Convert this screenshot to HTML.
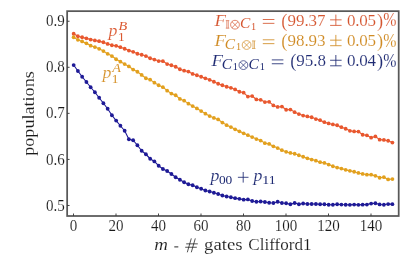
<!DOCTYPE html>
<html><head><meta charset="utf-8"><title>chart</title>
<style>
html,body{margin:0;padding:0;background:#fff;}
body{width:415px;height:260px;overflow:hidden;font-family:"Liberation Serif",serif;}
svg{display:block;font-family:"Liberation Serif",serif;will-change:transform;opacity:0.999;}
text{stroke:#fff;stroke-width:0.12px;paint-order:fill stroke;}
text.s{stroke:none;}
</style></head><body>
<svg width="415" height="260" viewBox="0 0 415 260">
<rect width="415" height="260" fill="#fff"/>
<rect x="67.15" y="11.15" width="331.55" height="204.85" fill="none" stroke="#585858" stroke-width="1.75"/>
<line x1="67.15" y1="205.49" x2="69.55000000000001" y2="205.49" stroke="#3c3c3c" stroke-width="0.95"/>
<text transform="translate(64.9,210.90) scale(0.94,1)" text-anchor="end" font-size="16" fill="#1a1a1a">0.5</text>
<line x1="67.15" y1="159.43" x2="69.55000000000001" y2="159.43" stroke="#3c3c3c" stroke-width="0.95"/>
<text transform="translate(64.9,164.65) scale(0.94,1)" text-anchor="end" font-size="16" fill="#1a1a1a">0.6</text>
<line x1="67.15" y1="113.37" x2="69.55000000000001" y2="113.37" stroke="#3c3c3c" stroke-width="0.95"/>
<text transform="translate(64.9,118.40) scale(0.94,1)" text-anchor="end" font-size="16" fill="#1a1a1a">0.7</text>
<line x1="67.15" y1="67.31" x2="69.55000000000001" y2="67.31" stroke="#3c3c3c" stroke-width="0.95"/>
<text transform="translate(64.9,72.15) scale(0.94,1)" text-anchor="end" font-size="16" fill="#1a1a1a">0.8</text>
<line x1="67.15" y1="21.25" x2="69.55000000000001" y2="21.25" stroke="#3c3c3c" stroke-width="0.95"/>
<text transform="translate(64.9,25.90) scale(0.94,1)" text-anchor="end" font-size="16" fill="#1a1a1a">0.9</text>
<line x1="73.50" y1="216.0" x2="73.50" y2="213.5" stroke="#3c3c3c" stroke-width="0.95"/>
<text transform="translate(73.60,230.7) scale(0.94,1)" text-anchor="middle" font-size="16" fill="#1a1a1a">0</text>
<line x1="116.00" y1="216.0" x2="116.00" y2="213.5" stroke="#3c3c3c" stroke-width="0.95"/>
<text transform="translate(116.10,230.7) scale(0.94,1)" text-anchor="middle" font-size="16" fill="#1a1a1a">20</text>
<line x1="158.50" y1="216.0" x2="158.50" y2="213.5" stroke="#3c3c3c" stroke-width="0.95"/>
<text transform="translate(158.60,230.7) scale(0.94,1)" text-anchor="middle" font-size="16" fill="#1a1a1a">40</text>
<line x1="201.00" y1="216.0" x2="201.00" y2="213.5" stroke="#3c3c3c" stroke-width="0.95"/>
<text transform="translate(201.10,230.7) scale(0.94,1)" text-anchor="middle" font-size="16" fill="#1a1a1a">60</text>
<line x1="243.50" y1="216.0" x2="243.50" y2="213.5" stroke="#3c3c3c" stroke-width="0.95"/>
<text transform="translate(243.60,230.7) scale(0.94,1)" text-anchor="middle" font-size="16" fill="#1a1a1a">80</text>
<line x1="286.00" y1="216.0" x2="286.00" y2="213.5" stroke="#3c3c3c" stroke-width="0.95"/>
<text transform="translate(286.10,230.7) scale(0.94,1)" text-anchor="middle" font-size="16" fill="#1a1a1a">100</text>
<line x1="328.50" y1="216.0" x2="328.50" y2="213.5" stroke="#3c3c3c" stroke-width="0.95"/>
<text transform="translate(328.60,230.7) scale(0.94,1)" text-anchor="middle" font-size="16" fill="#1a1a1a">120</text>
<line x1="371.00" y1="216.0" x2="371.00" y2="213.5" stroke="#3c3c3c" stroke-width="0.95"/>
<text transform="translate(371.10,230.7) scale(0.94,1)" text-anchor="middle" font-size="16" fill="#1a1a1a">140</text>
<text transform="translate(34,155.8) rotate(-90)" font-size="17" textLength="84.6" lengthAdjust="spacingAndGlyphs" fill="#1a1a1a">populations</text>
<text x="154.2" y="250.3" font-size="17" font-style="italic" textLength="13.7" lengthAdjust="spacingAndGlyphs" fill="#1a1a1a">m</text>
<path d="M174.3 246.9H178.3" stroke="#1a1a1a" stroke-width="0.95" fill="none"/>
<path d="M187.3 252.3L191.3 238.4M191.3 252.3L195.3 238.4M186.2 243.85H197.8M185.2 247.25H196.8" stroke="#1a1a1a" stroke-width="0.75" fill="none"/>
<text x="204" y="250.3" font-size="17" textLength="38.6" lengthAdjust="spacingAndGlyphs" fill="#1a1a1a">gates</text>
<text x="248.3" y="250.3" font-size="17" textLength="63.3" lengthAdjust="spacing" fill="#1a1a1a">Clifford1</text>
<polyline points="73.65,33.75 77.90,36.25 82.15,37.25 86.40,38.35 90.65,39.55 94.90,40.45 99.15,41.15 103.40,42.25 107.65,43.95 111.90,45.25 116.15,45.85 120.40,47.15 124.65,48.75 128.90,50.55 133.15,51.85 137.40,53.75 141.65,54.75 145.90,56.05 150.15,58.25 154.40,59.55 158.65,61.05 162.90,61.15 167.15,64.05 171.40,65.25 175.65,66.75 179.90,69.25 184.15,70.65 188.40,71.55 192.65,73.95 196.90,75.25 201.15,76.75 205.40,78.35 209.65,79.85 213.90,81.75 218.15,83.75 222.40,85.25 226.65,86.75 230.90,87.85 235.15,89.45 239.40,91.75 243.65,92.65 247.90,96.55 252.15,96.05 256.40,99.45 260.65,99.85 264.90,102.05 269.15,101.85 273.40,105.45 277.65,106.95 281.90,106.55 286.15,109.75 290.40,109.55 294.65,112.15 298.90,114.05 303.15,115.55 307.40,116.45 311.65,117.25 315.90,119.05 320.15,120.15 324.40,122.15 328.65,123.45 332.90,124.45 337.15,125.25 341.40,127.15 345.65,128.75 349.90,130.85 354.15,131.45 358.40,131.55 362.65,134.75 366.90,135.35 371.15,137.65 375.40,136.45 379.65,139.65 383.90,139.95 388.15,140.75 392.40,142.55" fill="none" stroke="#e8572e" stroke-width="1.1" stroke-linejoin="round"/>
<g fill="#e8572e"><circle cx="73.65" cy="33.75" r="1.9"/><circle cx="77.90" cy="36.25" r="1.9"/><circle cx="82.15" cy="37.25" r="1.9"/><circle cx="86.40" cy="38.35" r="1.9"/><circle cx="90.65" cy="39.55" r="1.9"/><circle cx="94.90" cy="40.45" r="1.9"/><circle cx="99.15" cy="41.15" r="1.9"/><circle cx="103.40" cy="42.25" r="1.9"/><circle cx="107.65" cy="43.95" r="1.9"/><circle cx="111.90" cy="45.25" r="1.9"/><circle cx="116.15" cy="45.85" r="1.9"/><circle cx="120.40" cy="47.15" r="1.9"/><circle cx="124.65" cy="48.75" r="1.9"/><circle cx="128.90" cy="50.55" r="1.9"/><circle cx="133.15" cy="51.85" r="1.9"/><circle cx="137.40" cy="53.75" r="1.9"/><circle cx="141.65" cy="54.75" r="1.9"/><circle cx="145.90" cy="56.05" r="1.9"/><circle cx="150.15" cy="58.25" r="1.9"/><circle cx="154.40" cy="59.55" r="1.9"/><circle cx="158.65" cy="61.05" r="1.9"/><circle cx="162.90" cy="61.15" r="1.9"/><circle cx="167.15" cy="64.05" r="1.9"/><circle cx="171.40" cy="65.25" r="1.9"/><circle cx="175.65" cy="66.75" r="1.9"/><circle cx="179.90" cy="69.25" r="1.9"/><circle cx="184.15" cy="70.65" r="1.9"/><circle cx="188.40" cy="71.55" r="1.9"/><circle cx="192.65" cy="73.95" r="1.9"/><circle cx="196.90" cy="75.25" r="1.9"/><circle cx="201.15" cy="76.75" r="1.9"/><circle cx="205.40" cy="78.35" r="1.9"/><circle cx="209.65" cy="79.85" r="1.9"/><circle cx="213.90" cy="81.75" r="1.9"/><circle cx="218.15" cy="83.75" r="1.9"/><circle cx="222.40" cy="85.25" r="1.9"/><circle cx="226.65" cy="86.75" r="1.9"/><circle cx="230.90" cy="87.85" r="1.9"/><circle cx="235.15" cy="89.45" r="1.9"/><circle cx="239.40" cy="91.75" r="1.9"/><circle cx="243.65" cy="92.65" r="1.9"/><circle cx="247.90" cy="96.55" r="1.9"/><circle cx="252.15" cy="96.05" r="1.9"/><circle cx="256.40" cy="99.45" r="1.9"/><circle cx="260.65" cy="99.85" r="1.9"/><circle cx="264.90" cy="102.05" r="1.9"/><circle cx="269.15" cy="101.85" r="1.9"/><circle cx="273.40" cy="105.45" r="1.9"/><circle cx="277.65" cy="106.95" r="1.9"/><circle cx="281.90" cy="106.55" r="1.9"/><circle cx="286.15" cy="109.75" r="1.9"/><circle cx="290.40" cy="109.55" r="1.9"/><circle cx="294.65" cy="112.15" r="1.9"/><circle cx="298.90" cy="114.05" r="1.9"/><circle cx="303.15" cy="115.55" r="1.9"/><circle cx="307.40" cy="116.45" r="1.9"/><circle cx="311.65" cy="117.25" r="1.9"/><circle cx="315.90" cy="119.05" r="1.9"/><circle cx="320.15" cy="120.15" r="1.9"/><circle cx="324.40" cy="122.15" r="1.9"/><circle cx="328.65" cy="123.45" r="1.9"/><circle cx="332.90" cy="124.45" r="1.9"/><circle cx="337.15" cy="125.25" r="1.9"/><circle cx="341.40" cy="127.15" r="1.9"/><circle cx="345.65" cy="128.75" r="1.9"/><circle cx="349.90" cy="130.85" r="1.9"/><circle cx="354.15" cy="131.45" r="1.9"/><circle cx="358.40" cy="131.55" r="1.9"/><circle cx="362.65" cy="134.75" r="1.9"/><circle cx="366.90" cy="135.35" r="1.9"/><circle cx="371.15" cy="137.65" r="1.9"/><circle cx="375.40" cy="136.45" r="1.9"/><circle cx="379.65" cy="139.65" r="1.9"/><circle cx="383.90" cy="139.95" r="1.9"/><circle cx="388.15" cy="140.75" r="1.9"/><circle cx="392.40" cy="142.55" r="1.9"/></g>
<polyline points="73.65,37.25 77.90,39.85 82.15,41.45 86.40,43.35 90.65,45.65 94.90,47.05 99.15,48.85 103.40,51.05 107.65,53.85 111.90,56.05 116.15,59.25 120.40,61.65 124.65,64.05 128.90,66.45 133.15,69.55 137.40,71.75 141.65,74.95 145.90,78.25 150.15,79.65 154.40,82.65 158.65,85.25 162.90,87.15 167.15,90.65 171.40,93.55 175.65,95.25 179.90,98.95 184.15,100.65 188.40,103.65 192.65,106.05 196.90,108.45 201.15,111.05 205.40,113.65 209.65,116.05 213.90,117.95 218.15,119.45 222.40,122.55 226.65,125.15 230.90,127.05 235.15,129.35 239.40,131.35 243.65,133.35 247.90,135.15 252.15,137.05 256.40,139.05 260.65,140.55 264.90,143.15 269.15,143.95 273.40,146.35 277.65,148.05 281.90,150.15 286.15,151.85 290.40,152.95 294.65,153.75 298.90,155.25 303.15,156.75 307.40,158.35 311.65,159.55 315.90,160.65 320.15,162.15 324.40,162.95 328.65,164.55 332.90,166.25 337.15,167.55 341.40,168.55 345.65,169.85 349.90,170.85 354.15,171.75 358.40,172.95 362.65,173.95 366.90,174.65 371.15,174.65 375.40,175.85 379.65,177.75 383.90,177.15 388.15,179.45 392.40,179.05" fill="none" stroke="#e2a01e" stroke-width="1.1" stroke-linejoin="round"/>
<g fill="#e2a01e"><circle cx="73.65" cy="37.25" r="1.9"/><circle cx="77.90" cy="39.85" r="1.9"/><circle cx="82.15" cy="41.45" r="1.9"/><circle cx="86.40" cy="43.35" r="1.9"/><circle cx="90.65" cy="45.65" r="1.9"/><circle cx="94.90" cy="47.05" r="1.9"/><circle cx="99.15" cy="48.85" r="1.9"/><circle cx="103.40" cy="51.05" r="1.9"/><circle cx="107.65" cy="53.85" r="1.9"/><circle cx="111.90" cy="56.05" r="1.9"/><circle cx="116.15" cy="59.25" r="1.9"/><circle cx="120.40" cy="61.65" r="1.9"/><circle cx="124.65" cy="64.05" r="1.9"/><circle cx="128.90" cy="66.45" r="1.9"/><circle cx="133.15" cy="69.55" r="1.9"/><circle cx="137.40" cy="71.75" r="1.9"/><circle cx="141.65" cy="74.95" r="1.9"/><circle cx="145.90" cy="78.25" r="1.9"/><circle cx="150.15" cy="79.65" r="1.9"/><circle cx="154.40" cy="82.65" r="1.9"/><circle cx="158.65" cy="85.25" r="1.9"/><circle cx="162.90" cy="87.15" r="1.9"/><circle cx="167.15" cy="90.65" r="1.9"/><circle cx="171.40" cy="93.55" r="1.9"/><circle cx="175.65" cy="95.25" r="1.9"/><circle cx="179.90" cy="98.95" r="1.9"/><circle cx="184.15" cy="100.65" r="1.9"/><circle cx="188.40" cy="103.65" r="1.9"/><circle cx="192.65" cy="106.05" r="1.9"/><circle cx="196.90" cy="108.45" r="1.9"/><circle cx="201.15" cy="111.05" r="1.9"/><circle cx="205.40" cy="113.65" r="1.9"/><circle cx="209.65" cy="116.05" r="1.9"/><circle cx="213.90" cy="117.95" r="1.9"/><circle cx="218.15" cy="119.45" r="1.9"/><circle cx="222.40" cy="122.55" r="1.9"/><circle cx="226.65" cy="125.15" r="1.9"/><circle cx="230.90" cy="127.05" r="1.9"/><circle cx="235.15" cy="129.35" r="1.9"/><circle cx="239.40" cy="131.35" r="1.9"/><circle cx="243.65" cy="133.35" r="1.9"/><circle cx="247.90" cy="135.15" r="1.9"/><circle cx="252.15" cy="137.05" r="1.9"/><circle cx="256.40" cy="139.05" r="1.9"/><circle cx="260.65" cy="140.55" r="1.9"/><circle cx="264.90" cy="143.15" r="1.9"/><circle cx="269.15" cy="143.95" r="1.9"/><circle cx="273.40" cy="146.35" r="1.9"/><circle cx="277.65" cy="148.05" r="1.9"/><circle cx="281.90" cy="150.15" r="1.9"/><circle cx="286.15" cy="151.85" r="1.9"/><circle cx="290.40" cy="152.95" r="1.9"/><circle cx="294.65" cy="153.75" r="1.9"/><circle cx="298.90" cy="155.25" r="1.9"/><circle cx="303.15" cy="156.75" r="1.9"/><circle cx="307.40" cy="158.35" r="1.9"/><circle cx="311.65" cy="159.55" r="1.9"/><circle cx="315.90" cy="160.65" r="1.9"/><circle cx="320.15" cy="162.15" r="1.9"/><circle cx="324.40" cy="162.95" r="1.9"/><circle cx="328.65" cy="164.55" r="1.9"/><circle cx="332.90" cy="166.25" r="1.9"/><circle cx="337.15" cy="167.55" r="1.9"/><circle cx="341.40" cy="168.55" r="1.9"/><circle cx="345.65" cy="169.85" r="1.9"/><circle cx="349.90" cy="170.85" r="1.9"/><circle cx="354.15" cy="171.75" r="1.9"/><circle cx="358.40" cy="172.95" r="1.9"/><circle cx="362.65" cy="173.95" r="1.9"/><circle cx="366.90" cy="174.65" r="1.9"/><circle cx="371.15" cy="174.65" r="1.9"/><circle cx="375.40" cy="175.85" r="1.9"/><circle cx="379.65" cy="177.75" r="1.9"/><circle cx="383.90" cy="177.15" r="1.9"/><circle cx="388.15" cy="179.45" r="1.9"/><circle cx="392.40" cy="179.05" r="1.9"/></g>
<polyline points="73.65,65.05 77.90,71.00 82.15,76.75 86.40,82.00 90.65,87.25 94.90,92.25 99.15,97.75 103.40,103.25 107.65,108.75 111.90,115.25 116.15,120.55 120.40,125.75 124.65,130.75 128.90,139.25 133.15,140.25 137.40,145.25 141.65,150.75 145.90,154.25 150.15,158.75 154.40,161.45 158.65,165.75 162.90,169.00 167.15,171.00 171.40,174.00 175.65,177.25 179.90,179.75 184.15,182.25 188.40,184.25 192.65,185.25 196.90,187.25 201.15,188.75 205.40,190.50 209.65,191.50 213.90,192.75 218.15,194.00 222.40,195.50 226.65,196.50 230.90,197.25 235.15,198.15 239.40,198.85 243.65,199.65 247.90,199.45 252.15,201.00 256.40,201.75 260.65,201.50 264.90,202.00 269.15,202.75 273.40,203.00 277.65,201.75 281.90,203.00 286.15,203.25 290.40,204.25 294.65,203.00 298.90,204.25 303.15,203.50 307.40,204.00 311.65,204.00 315.90,204.00 320.15,204.25 324.40,204.25 328.65,204.75 332.90,204.75 337.15,204.25 341.40,204.55 345.65,204.75 349.90,204.85 354.15,204.55 358.40,204.85 362.65,204.65 366.90,204.55 371.15,203.55 375.40,203.25 379.65,204.45 383.90,204.75 388.15,204.05 392.40,204.15" fill="none" stroke="#1e1a96" stroke-width="1.1" stroke-linejoin="round"/>
<g fill="#1e1a96"><circle cx="73.65" cy="65.05" r="1.9"/><circle cx="77.90" cy="71.00" r="1.9"/><circle cx="82.15" cy="76.75" r="1.9"/><circle cx="86.40" cy="82.00" r="1.9"/><circle cx="90.65" cy="87.25" r="1.9"/><circle cx="94.90" cy="92.25" r="1.9"/><circle cx="99.15" cy="97.75" r="1.9"/><circle cx="103.40" cy="103.25" r="1.9"/><circle cx="107.65" cy="108.75" r="1.9"/><circle cx="111.90" cy="115.25" r="1.9"/><circle cx="116.15" cy="120.55" r="1.9"/><circle cx="120.40" cy="125.75" r="1.9"/><circle cx="124.65" cy="130.75" r="1.9"/><circle cx="128.90" cy="139.25" r="1.9"/><circle cx="133.15" cy="140.25" r="1.9"/><circle cx="137.40" cy="145.25" r="1.9"/><circle cx="141.65" cy="150.75" r="1.9"/><circle cx="145.90" cy="154.25" r="1.9"/><circle cx="150.15" cy="158.75" r="1.9"/><circle cx="154.40" cy="161.45" r="1.9"/><circle cx="158.65" cy="165.75" r="1.9"/><circle cx="162.90" cy="169.00" r="1.9"/><circle cx="167.15" cy="171.00" r="1.9"/><circle cx="171.40" cy="174.00" r="1.9"/><circle cx="175.65" cy="177.25" r="1.9"/><circle cx="179.90" cy="179.75" r="1.9"/><circle cx="184.15" cy="182.25" r="1.9"/><circle cx="188.40" cy="184.25" r="1.9"/><circle cx="192.65" cy="185.25" r="1.9"/><circle cx="196.90" cy="187.25" r="1.9"/><circle cx="201.15" cy="188.75" r="1.9"/><circle cx="205.40" cy="190.50" r="1.9"/><circle cx="209.65" cy="191.50" r="1.9"/><circle cx="213.90" cy="192.75" r="1.9"/><circle cx="218.15" cy="194.00" r="1.9"/><circle cx="222.40" cy="195.50" r="1.9"/><circle cx="226.65" cy="196.50" r="1.9"/><circle cx="230.90" cy="197.25" r="1.9"/><circle cx="235.15" cy="198.15" r="1.9"/><circle cx="239.40" cy="198.85" r="1.9"/><circle cx="243.65" cy="199.65" r="1.9"/><circle cx="247.90" cy="199.45" r="1.9"/><circle cx="252.15" cy="201.00" r="1.9"/><circle cx="256.40" cy="201.75" r="1.9"/><circle cx="260.65" cy="201.50" r="1.9"/><circle cx="264.90" cy="202.00" r="1.9"/><circle cx="269.15" cy="202.75" r="1.9"/><circle cx="273.40" cy="203.00" r="1.9"/><circle cx="277.65" cy="201.75" r="1.9"/><circle cx="281.90" cy="203.00" r="1.9"/><circle cx="286.15" cy="203.25" r="1.9"/><circle cx="290.40" cy="204.25" r="1.9"/><circle cx="294.65" cy="203.00" r="1.9"/><circle cx="298.90" cy="204.25" r="1.9"/><circle cx="303.15" cy="203.50" r="1.9"/><circle cx="307.40" cy="204.00" r="1.9"/><circle cx="311.65" cy="204.00" r="1.9"/><circle cx="315.90" cy="204.00" r="1.9"/><circle cx="320.15" cy="204.25" r="1.9"/><circle cx="324.40" cy="204.25" r="1.9"/><circle cx="328.65" cy="204.75" r="1.9"/><circle cx="332.90" cy="204.75" r="1.9"/><circle cx="337.15" cy="204.25" r="1.9"/><circle cx="341.40" cy="204.55" r="1.9"/><circle cx="345.65" cy="204.75" r="1.9"/><circle cx="349.90" cy="204.85" r="1.9"/><circle cx="354.15" cy="204.55" r="1.9"/><circle cx="358.40" cy="204.85" r="1.9"/><circle cx="362.65" cy="204.65" r="1.9"/><circle cx="366.90" cy="204.55" r="1.9"/><circle cx="371.15" cy="203.55" r="1.9"/><circle cx="375.40" cy="203.25" r="1.9"/><circle cx="379.65" cy="204.45" r="1.9"/><circle cx="383.90" cy="204.75" r="1.9"/><circle cx="388.15" cy="204.05" r="1.9"/><circle cx="392.40" cy="204.15" r="1.9"/></g>

<text x="108.6" y="36.4" font-size="16.5" font-style="italic" fill="#db5830" textLength="8.9" lengthAdjust="spacingAndGlyphs">p</text><text class="s" x="118.5" y="29.90" font-size="13" font-style="italic" fill="#db5830" textLength="8.7" lengthAdjust="spacingAndGlyphs">B</text><text class="s" x="118.0" y="40.70" font-size="12.7" fill="#db5830" textLength="6.70" lengthAdjust="spacingAndGlyphs">1</text>
<text x="102.4" y="78.2" font-size="16.5" font-style="italic" fill="#d6922a" textLength="8.9" lengthAdjust="spacingAndGlyphs">p</text><text class="s" x="112.3" y="71.70" font-size="13" font-style="italic" fill="#d6922a" textLength="8.7" lengthAdjust="spacingAndGlyphs">A</text><text class="s" x="111.8" y="82.50" font-size="12.7" fill="#d6922a" textLength="6.70" lengthAdjust="spacingAndGlyphs">1</text>
<text x="210.5" y="181" font-size="16.5" font-style="italic" fill="#1f2b73" textLength="8.9" lengthAdjust="spacingAndGlyphs">p</text><text class="s" x="218.9" y="183.70" font-size="12.7" fill="#1f2b73" textLength="13.40" lengthAdjust="spacingAndGlyphs">00</text>
<path d="M237.9 177.3h10.6M243.2 172v10.6" stroke="#1f2b73" stroke-width="0.85" fill="none"/>
<text x="253.6" y="181" font-size="16.5" font-style="italic" fill="#1f2b73" textLength="8.9" lengthAdjust="spacingAndGlyphs">p</text><text class="s" x="262.3" y="183.70" font-size="12.7" fill="#1f2b73" textLength="13.40" lengthAdjust="spacingAndGlyphs">11</text>
<text x="214.4" y="25.6" font-size="17" font-style="italic" fill="#d5552f" textLength="11.5" lengthAdjust="spacingAndGlyphs">F</text><path d="M225.8 20.6H229.3M225.8 28.200000000000003H229.3M226.8 20.6V28.200000000000003M228.3 20.6V28.200000000000003" stroke="#d5552f" stroke-width="0.6" fill="none"/><circle cx="235.0" cy="24.700000000000003" r="4.4" fill="none" stroke="#d5552f" stroke-width="0.7"/><path d="M231.89 21.59L238.11 27.81M231.89 27.81L238.11 21.59" stroke="#d5552f" stroke-width="0.7" fill="none"/><text class="s" x="240.0" y="28.200000000000003" font-size="14.4" font-style="italic" fill="#d5552f" textLength="10.3" lengthAdjust="spacingAndGlyphs">C</text><text class="s" x="251.1" y="30.000000000000004" font-size="10.3" fill="#d5552f">1</text><path d="M262.79999999999995 19.50h11.6M262.79999999999995 23.35h11.6" stroke="#d5552f" stroke-width="0.85" fill="none"/><text transform="translate(281.30,26.50) scale(1.08,1.1)" font-size="17" fill="#d5552f">(</text><text x="287.40" y="25.6" font-size="17" fill="#d5552f" textLength="38.20" lengthAdjust="spacing">99.37</text><path d="M330.1 19.85h11.5M335.85 14.60V25.40M330.1 25.40h11.5" stroke="#d5552f" stroke-width="0.85" fill="none"/><text x="346.9" y="25.6" font-size="17" fill="#d5552f" textLength="29.2" lengthAdjust="spacing">0.05</text><text transform="translate(376.9,26.50) scale(1.08,1.1)" font-size="17" fill="#d5552f">)</text><text transform="translate(383.3,26.20) scale(1,1.1)" font-size="17" fill="#d5552f" textLength="13.2" lengthAdjust="spacingAndGlyphs">%</text>
<text x="214.4" y="45.9" font-size="17" font-style="italic" fill="#d08b24" textLength="11.5" lengthAdjust="spacingAndGlyphs">F</text><text class="s" x="224.8" y="48.5" font-size="14.4" font-style="italic" fill="#d08b24" textLength="10.3" lengthAdjust="spacingAndGlyphs">C</text><text class="s" x="235.9" y="50.3" font-size="10.3" fill="#d08b24">1</text><circle cx="246.6" cy="45.0" r="4.4" fill="none" stroke="#d08b24" stroke-width="0.7"/><path d="M243.49 41.89L249.71 48.11M243.49 48.11L249.71 41.89" stroke="#d08b24" stroke-width="0.7" fill="none"/><path d="M252.0 40.9H255.5M252.0 48.5H255.5M253.0 40.9V48.5M254.5 40.9V48.5" stroke="#d08b24" stroke-width="0.6" fill="none"/><path d="M262.79999999999995 39.80h11.6M262.79999999999995 43.65h11.6" stroke="#d08b24" stroke-width="0.85" fill="none"/><text transform="translate(281.30,46.80) scale(1.08,1.1)" font-size="17" fill="#d08b24">(</text><text x="287.40" y="45.9" font-size="17" fill="#d08b24" textLength="38.20" lengthAdjust="spacing">98.93</text><path d="M330.1 40.15h11.5M335.85 34.90V45.70M330.1 45.70h11.5" stroke="#d08b24" stroke-width="0.85" fill="none"/><text x="346.9" y="45.9" font-size="17" fill="#d08b24" textLength="29.2" lengthAdjust="spacing">0.05</text><text transform="translate(376.9,46.80) scale(1.08,1.1)" font-size="17" fill="#d08b24">)</text><text transform="translate(383.3,46.50) scale(1,1.1)" font-size="17" fill="#d08b24" textLength="13.2" lengthAdjust="spacingAndGlyphs">%</text>
<text x="211.4" y="66.0" font-size="17" font-style="italic" fill="#1f2b73" textLength="11.5" lengthAdjust="spacingAndGlyphs">F</text><text class="s" x="221.70000000000002" y="68.6" font-size="14.4" font-style="italic" fill="#1f2b73" textLength="10.3" lengthAdjust="spacingAndGlyphs">C</text><text class="s" x="232.8" y="70.39999999999999" font-size="10.3" fill="#1f2b73">1</text><circle cx="243.4" cy="65.1" r="4.4" fill="none" stroke="#1f2b73" stroke-width="0.7"/><path d="M240.29 61.99L246.51 68.21M240.29 68.21L246.51 61.99" stroke="#1f2b73" stroke-width="0.7" fill="none"/><text class="s" x="248.6" y="68.6" font-size="14.4" font-style="italic" fill="#1f2b73" textLength="10.3" lengthAdjust="spacingAndGlyphs">C</text><text class="s" x="259.7" y="70.39999999999999" font-size="10.3" fill="#1f2b73">1</text><path d="M271.79999999999995 59.90h11.6M271.79999999999995 63.75h11.6" stroke="#1f2b73" stroke-width="0.85" fill="none"/><text transform="translate(290.20,66.90) scale(1.08,1.1)" font-size="17" fill="#1f2b73">(</text><text x="296.30" y="66.0" font-size="17" fill="#1f2b73" textLength="29.60" lengthAdjust="spacing">95.8</text><path d="M330.1 60.25h11.5M335.85 55.00V65.80M330.1 65.80h11.5" stroke="#1f2b73" stroke-width="0.85" fill="none"/><text x="346.9" y="66.0" font-size="17" fill="#1f2b73" textLength="29.2" lengthAdjust="spacing">0.04</text><text transform="translate(376.9,66.90) scale(1.08,1.1)" font-size="17" fill="#1f2b73">)</text><text transform="translate(383.3,66.60) scale(1,1.1)" font-size="17" fill="#1f2b73" textLength="13.2" lengthAdjust="spacingAndGlyphs">%</text>
</svg>
</body></html>
